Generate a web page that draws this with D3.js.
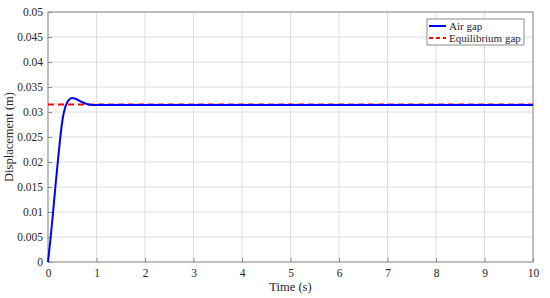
<!DOCTYPE html>
<html>
<head>
<meta charset="utf-8">
<script src="https://cdn.jsdelivr.net/npm/d3@7"></script>
<style>
  body { margin: 0; background: #fff; }
  svg text { font-family: "Liberation Serif", "Times New Roman", Times, "DejaVu Serif", serif; fill: #262626; }
</style>
</head>
<body>
<div id="chart"></div>
<script>
// Dados
const time = [0, 0.05, 0.1, 0.15, 0.2, 0.25, 0.3, 0.35, 0.4, 0.45, 0.5, 0.55, 0.6, 0.7, 0.8, 0.9, 1.0, 1.2, 2, 4, 6, 8, 10];
const airGap = [0, 0.0045, 0.0095, 0.0148, 0.0198, 0.0246, 0.0285, 0.0308, 0.0320, 0.0326, 0.0328, 0.0327, 0.0325, 0.0320, 0.0316, 0.0314, 0.0314, 0.0314, 0.0314, 0.0314, 0.0314, 0.0314, 0.0314];
const equilibriumGap = 0.0315;
const xTicks = [0, 1, 2, 3, 4, 5, 6, 7, 8, 9, 10];
const yTicks = [0, 0.005, 0.01, 0.015, 0.02, 0.025, 0.03, 0.035, 0.04, 0.045, 0.05];
const legendLabels = ['Air gap', 'Equilibrium gap'];

const width = 550, height = 298;
const margin = { top: 12, right: 17, bottom: 36, left: 48 };
const serif = '"Liberation Serif", "Times New Roman", Times, "DejaVu Serif", serif';

const svg = d3.select('#chart').append('svg')
  .attr('width', width)
  .attr('height', height);

const x = d3.scaleLinear().domain([0, 10]).range([margin.left, width - margin.right]);
const y = d3.scaleLinear().domain([0, 0.05]).range([height - margin.bottom, margin.top]);

// Grade
svg.append('g')
  .selectAll('line')
  .data(xTicks)
  .enter().append('line')
  .attr('x1', d => x(d)).attr('x2', d => x(d))
  .attr('y1', y(0)).attr('y2', y(0.05))
  .attr('stroke', '#dedede').attr('stroke-width', 1);
svg.append('g')
  .selectAll('line')
  .data(yTicks)
  .enter().append('line')
  .attr('x1', x(0)).attr('x2', x(10))
  .attr('y1', d => y(d)).attr('y2', d => y(d))
  .attr('stroke', '#dedede').attr('stroke-width', 1);

// Eixos
const xAxis = svg.append('g')
  .attr('transform', `translate(0,${y(0)})`)
  .call(d3.axisBottom(x).tickValues(xTicks).tickSize(-4).tickPadding(7).tickFormat(d3.format('d')));
const yAxis = svg.append('g')
  .attr('transform', `translate(${x(0)},0)`)
  .call(d3.axisLeft(y).tickValues(yTicks).tickSize(-4).tickPadding(5).tickFormat(d => d === 0 ? '0' : String(+d.toFixed(3))));
[xAxis, yAxis].forEach(a => {
  a.attr('font-family', serif).attr('font-size', 11.5);
  a.select('.domain').remove();
  a.selectAll('line').attr('stroke', '#8c8c8c');
  a.selectAll('text').attr('fill', '#262626');
});

// Moldura
svg.append('rect')
  .attr('x', x(0)).attr('y', y(0.05))
  .attr('width', x(10) - x(0)).attr('height', y(0) - y(0.05))
  .attr('fill', 'none').attr('stroke', '#8c8c8c').attr('stroke-width', 1);

// Linhas
svg.append('line')
  .attr('x1', x(0)).attr('x2', x(10))
  .attr('y1', y(equilibriumGap)).attr('y2', y(equilibriumGap))
  .attr('stroke', '#ff0000').attr('stroke-width', 2)
  .attr('stroke-dasharray', '6,4');

const line = d3.line()
  .x((d, i) => x(time[i]))
  .y(d => y(d))
  .curve(d3.curveMonotoneX);
svg.append('path')
  .datum(airGap)
  .attr('d', line)
  .attr('fill', 'none')
  .attr('stroke', '#0000ff')
  .attr('stroke-width', 2);

// Rótulos
svg.append('text')
  .attr('x', (x(0) + x(10)) / 2).attr('y', 291)
  .attr('text-anchor', 'middle')
  .style('font-size', '12.5px')
  .text('Time (s)');
svg.append('text')
  .attr('transform', `translate(13,${(y(0) + y(0.05)) / 2}) rotate(-90)`)
  .attr('text-anchor', 'middle')
  .style('font-size', '12.5px')
  .text('Displacement (m)');

// Legenda
const legend = svg.append('g').attr('transform', 'translate(427,19)');
legend.append('rect')
  .attr('width', 97).attr('height', 26)
  .attr('fill', '#fff').attr('stroke', '#8c8c8c').attr('stroke-width', 1);
const legendStyles = [
  { color: '#0000ff', dash: null },
  { color: '#ff0000', dash: '4,3' }
];
legendLabels.forEach((label, i) => {
  const yy = 7 + i * 12;
  legend.append('line')
    .attr('x1', 2).attr('x2', 19)
    .attr('y1', yy).attr('y2', yy)
    .attr('stroke', legendStyles[i].color).attr('stroke-width', 2)
    .attr('stroke-dasharray', legendStyles[i].dash);
  legend.append('text')
    .attr('x', 22).attr('y', yy + 4)
    .style('font-size', '11px')
    .text(label);
});
</script>
</body>
</html>
